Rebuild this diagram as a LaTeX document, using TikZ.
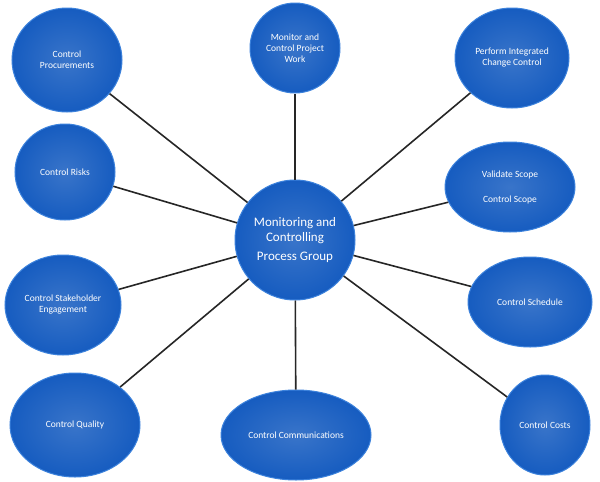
\documentclass[tikz,border=0pt]{standalone}
\usepackage{fontspec}
\setmainfont{Carlito}
\usetikzlibrary{shapes.geometric}
\definecolor{bub}{RGB}{22,92,192}
\definecolor{bubedge}{RGB}{60,130,220}
\tikzset{bub/.style={ellipse,inner sep=0pt,draw=bubedge,line width=1pt,shading=radial,inner color=bub!85!white,outer color=bub,text=white,align=center,font=\fontsize{9.5}{11}\selectfont},
link/.style={line width=1.6pt,draw=black!85}}
\begin{document}
\begin{tikzpicture}[x=1pt,y=-1pt]
\useasboundingbox (0,0) rectangle (600,482);
\fill[white] (0,0) rectangle (600,482);
\node[bub,minimum width=120pt,minimum height=120pt,font=\fontsize{13}{15.5}\selectfont] (c) at (295,240) {Monitoring and\\Controlling\\[3pt]Process Group};
\node[bub,minimum width=110pt,minimum height=104pt] (p) at (67,60) {Control\\Procurements};
\node[bub,minimum width=90pt,minimum height=90pt] (m) at (295,48) {Monitor and\\Control Project\\Work};
\node[bub,minimum width=114pt,minimum height=100pt] (i) at (512,58) {Perform Integrated\\Change Control};
\node[bub,minimum width=100pt,minimum height=96pt] (r) at (65,172) {Control Risks};
\node[bub,minimum width=130pt,minimum height=90pt] (s) at (510,187) {Validate Scope\\[14pt]Control Scope};
\node[bub,minimum width=116pt,minimum height=100pt] (e) at (63,305) {Control Stakeholder\\Engagement};
\node[bub,minimum width=124pt,minimum height=90pt] (h) at (530,302) {Control Schedule};
\node[bub,minimum width=130pt,minimum height=104pt] (q) at (75,425) {Control Quality};
\node[bub,minimum width=150pt,minimum height=90pt] (o) at (296,435) {Control Communications};
\node[bub,minimum width=90pt,minimum height=100pt] (k) at (545,425) {Control Costs};
\foreach \n in {p,m,i,r,s,e,h,q,o,k} \draw[link] (c) -- (\n);
\end{tikzpicture}
\end{document}
